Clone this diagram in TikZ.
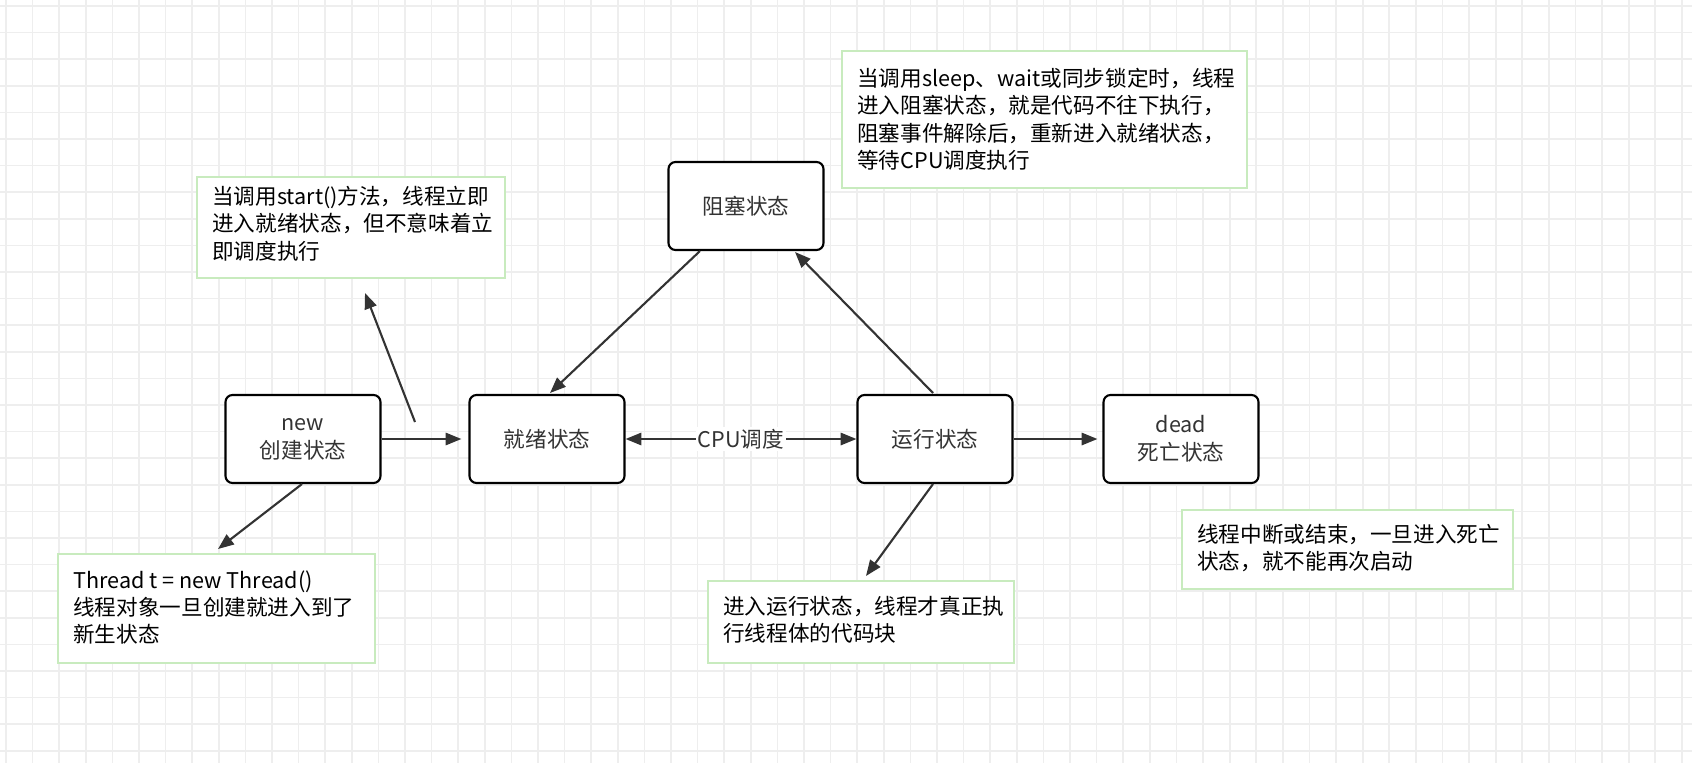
\documentclass[tikz,border=0pt]{standalone}
\usepackage{fontspec}
\setmainfont{Noto Sans CJK SC}
\usetikzlibrary{arrows.meta}
\definecolor{gridc}{RGB}{238,238,238}
\definecolor{noteg}{RGB}{200,235,190}
\definecolor{ink}{RGB}{51,51,51}
\newlength{\pxu}
\setlength{\pxu}{0.02cm}
\tikzset{
	state/.style={draw=black, line width=1.2pt, rounded corners=4pt, fill=white,
		minimum width=155\pxu, minimum height=88\pxu, align=center, text=ink,
		font=\fontsize{12.3}{16}\selectfont},
	note/.style={anchor=north west, align=left, text=black, inner sep=0pt,
		font=\fontsize{12.3}{15.5}\selectfont},
	link/.style={-{Triangle[length=9pt,width=7pt]}, line width=1.2pt, draw=ink},
}
\begin{document}
\begin{tikzpicture}[x=0.02cm, y=-0.02cm]
	\useasboundingbox (0,0) rectangle (1692,763);
	\fill[white] (0,0) rectangle (1692,763);

	% grid
	\begin{scope}
		\clip (0,0) rectangle (1692,763);
		\foreach \i in {0,...,63} {
			\draw[gridc, line width=1pt] (6+\i*26.6,0) -- (6+\i*26.6,763);
		}
		\foreach \j in {0,...,28} {
			\draw[gridc, line width=1pt] (0,6+\j*26.6) -- (1692,6+\j*26.6);
		}
	\end{scope}

	% states
	\node[state] (new) at (303,439) {new\\创建状态};
	\node[state] (ready) at (547,439) {就绪状态};
	\node[state] (run) at (935,439) {运行状态};
	\node[state] (dead) at (1181,439) {dead\\死亡状态};
	\node[state] (block) at (746,206) {阻塞状态};

	% notes
	\draw[noteg, line width=0.6pt, fill=white] (197,177) rectangle (505,278);
	\node[note] (nstart) at (212,186) {当调用start()方法，线程立即\\进入就绪状态，但不意味着立\\即调度执行};
	\draw[noteg, line width=0.6pt, fill=white] (842,51) rectangle (1247,188);
	\node[note] (nblock) at (857,68) {当调用sleep、wait或同步锁定时，线程\\进入阻塞状态，就是代码不往下执行，\\阻塞事件解除后，重新进入就绪状态，\\等待CPU调度执行};
	\draw[noteg, line width=0.6pt, fill=white] (58,554) rectangle (375,663);
	\node[note] (nnew) at (73,570) {Thread t = new Thread()\\线程对象一旦创建就进入到了\\新生状态};
	\draw[noteg, line width=0.6pt, fill=white] (708,581) rectangle (1014,663);
	\node[note] (nrun) at (723,596) {进入运行状态，线程才真正执\\行线程体的代码块};
	\draw[noteg, line width=0.6pt, fill=white] (1182,510) rectangle (1513,589);
	\node[note] (ndead) at (1197,524) {线程中断或结束，一旦进入死亡\\状态，就不能再次启动};

	% arrows
	\coordinate (a1) at (415,422);
	\coordinate (a2) at (365,293);
	\coordinate (a3) at (218,549);
	\coordinate (a4) at (866,576);
	\draw[link] (new.east) -- ([xshift=-7\pxu]ready.west);
	\draw[link] (a1) -- (a2);
	\draw[link] (302,484) -- (a3);
	\draw[link] (700,251) -- (550,393);
	\draw[link] (933,393) -- (795,252);
	\draw[link] (run.east) -- ([xshift=-5\pxu]dead.west);
	\draw[link] (933,484) -- (a4);
	\draw[link, {Triangle[length=9pt,width=7pt]}-{Triangle[length=9pt,width=7pt]}] (ready.east) -- (run.west)
		node[midway, fill=white, inner sep=1pt, text=ink, font=\fontsize{12.3}{16}\selectfont] {CPU调度};
\end{tikzpicture}
\end{document}
